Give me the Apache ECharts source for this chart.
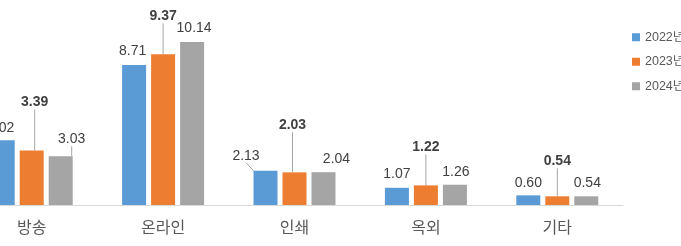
<!DOCTYPE html>
<html><head><meta charset="utf-8">
<script src="https://cdn.jsdelivr.net/npm/echarts@6/dist/echarts.min.js"></script>
<style>html,body{margin:0;padding:0;background:#fff}#c{width:681px;height:246px}</style>
</head><body><div id="c"></div>
<script>
const categories = ['방송', '온라인', '인쇄', '옥외', '기타'];
const years = ['2022년', '2023년', '2024년'];
const v2022 = [4.02, 8.71, 2.13, 1.07, 0.60];
const v2023 = [3.39, 9.37, 2.03, 1.22, 0.54];
const v2024 = [3.03, 10.14, 2.04, 1.26, 0.54];

// label placement (style only)
const labelOffsets = [
  [[-2, 0], [-1.5, -2], [-19.5, -3], [0, -2], [0, 0]],
  [[3, -36], [0, -26], [-2, -35], [0, -26], [0, -23]],
  [[11, -5], [2, -2], [13, -1], [1, -1], [1, -1]]
];
const leaderLines = [
  [0, 0, 1, 0, 0],
  [1, 1, 1, 1, 1],
  [1, 0, 0, 0, 0]
];
const colors = ['#5B9BD5', '#ED7D31', '#A5A5A5'];
const values = [v2022, v2023, v2024];

const chart = echarts.init(document.getElementById('c'));
chart.setOption({
  animation: false,
  textStyle: { fontFamily: 'Noto Sans, Noto Sans CJK KR, sans-serif' },
  legend: {
    orient: 'vertical', left: 627, top: 26, itemWidth: 8, itemHeight: 8, itemGap: 12,
    icon: 'rect',
    textStyle: { color: '#595959', fontSize: 12.5, fontFamily: 'Liberation Sans, Noto Sans CJK KR, sans-serif' },
    data: years
  },
  grid: { left: -34, width: 657, top: 12, bottom: 41, containLabel: false, outerBoundsMode: 'none' },
  xAxis: {
    type: 'category', data: categories,
    axisLine: { lineStyle: { color: '#D9D9D9', width: 1 } },
    axisTick: { show: false },
    axisLabel: { color: '#595959', fontSize: 16, margin: 14, fontFamily: 'Noto Sans CJK KR, sans-serif' }
  },
  yAxis: { type: 'value', min: 0, max: 12, show: false, splitLine: { show: false } },
  series: values.map((vals, s) => ({
    name: years[s], type: 'bar', barWidth: 24, barGap: '20.8%',
    itemStyle: { color: colors[s] },
    data: vals.map((v, i) => ({ value: v, labelLine: { show: !!leaderLines[s][i] } })),
    label: {
      show: true, position: 'top', distance: 5,
      color: '#404040', fontSize: 14, fontWeight: s === 1 ? 'bold' : 'normal',
      fontFamily: 'Liberation Sans, sans-serif',
      formatter: p => p.value.toFixed(2)
    },
    labelLine: { lineStyle: { color: '#A6A6A6', width: 1 }, length2: 0 },
    labelLayout: p => {
      const o = labelOffsets[p.seriesIndex][p.dataIndex];
      return { dx: o[0], dy: o[1] };
    }
  }))
});
</script></body></html>
